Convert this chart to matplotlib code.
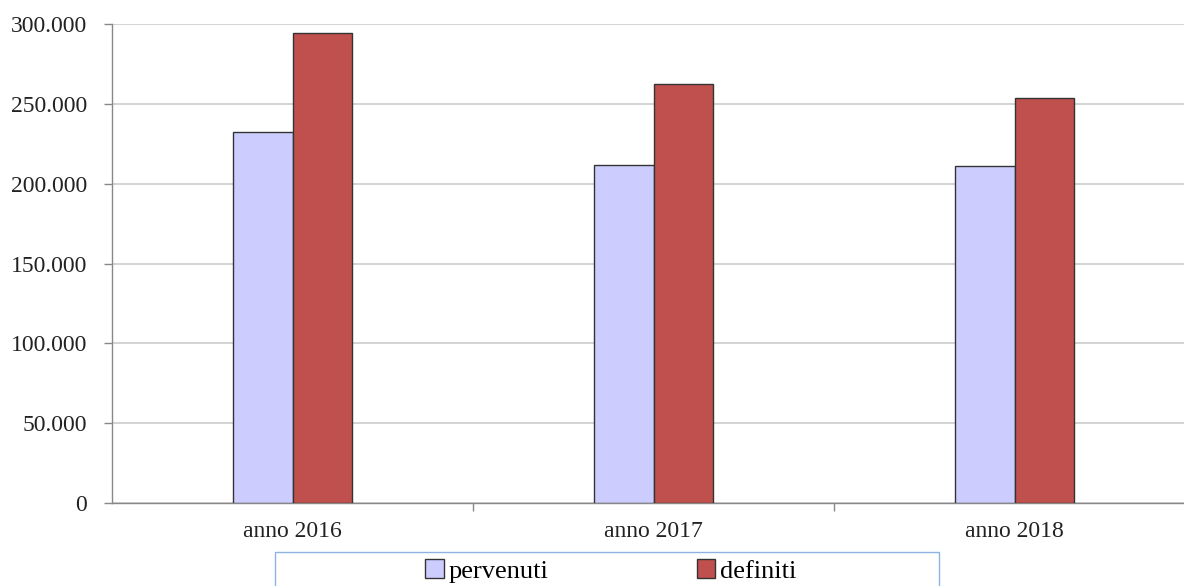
import numpy as np
import matplotlib
matplotlib.use("Agg")
import matplotlib.pyplot as plt
from matplotlib.patches import Rectangle
from matplotlib.ticker import FuncFormatter, MultipleLocator, FixedLocator

categories = ["anno 2016", "anno 2017", "anno 2018"]
pervenuti = [232300, 211600, 211000]
definiti = [294200, 262400, 253600]

plt.rcParams['font.family'] = ['Liberation Serif', 'DejaVu Serif']

W, H = 1184, 586
fig = plt.figure(figsize=(W / 100, H / 100), dpi=100)
ax = fig.add_axes([112 / W, 1 - 503 / H, 1083 / W, 479 / H])

x = np.arange(len(categories))
bw = 0.166
ax.bar(x - bw / 2, pervenuti, bw, color="#ccccff", edgecolor="#333333", linewidth=1, label="pervenuti", zorder=3)
ax.bar(x + bw / 2, definiti, bw, color="#c0504d", edgecolor="#333333", linewidth=1, label="definiti", zorder=3)

ax.set_xlim(-0.5, 2.5)
ax.set_ylim(0, 300000)
ax.yaxis.set_major_locator(MultipleLocator(50000))
ax.yaxis.set_major_formatter(FuncFormatter(lambda v, p: f"{int(v):,}".replace(",", ".")))
ax.grid(axis="y", color="#d0d0d0", linewidth=1.3, zorder=0)

ax.set_xticks(x)
ax.set_xticklabels(categories)
ax.xaxis.set_minor_locator(FixedLocator([0.5, 1.5]))
ax.tick_params(axis="x", which="major", length=0, pad=13, labelsize=17, labelcolor="#222222")
ax.tick_params(axis="x", which="minor", length=6, color="#888888", width=1)
ax.tick_params(axis="y", length=6, color="#888888", width=1, pad=12, labelsize=17, labelcolor="#222222")

for s in ["top", "right"]:
    ax.spines[s].set_visible(False)
for s in ["left", "bottom"]:
    ax.spines[s].set_color("#888888")
    ax.spines[s].set_linewidth(1)

# legend box
fig.patches.append(Rectangle((275 / W, -0.02), 664 / W, 1 - 552 / H + 0.02,
                             transform=fig.transFigure, fill=False,
                             edgecolor="#8db3e2", linewidth=1))
fig.legend(loc="center", bbox_to_anchor=(611 / W, 1 - 571 / H), ncol=2, frameon=False,
           fontsize=19, columnspacing=5.6, handlelength=0.7, handleheight=0.7,
           handletextpad=0.2)

fig.savefig("out.png", dpi=100)
